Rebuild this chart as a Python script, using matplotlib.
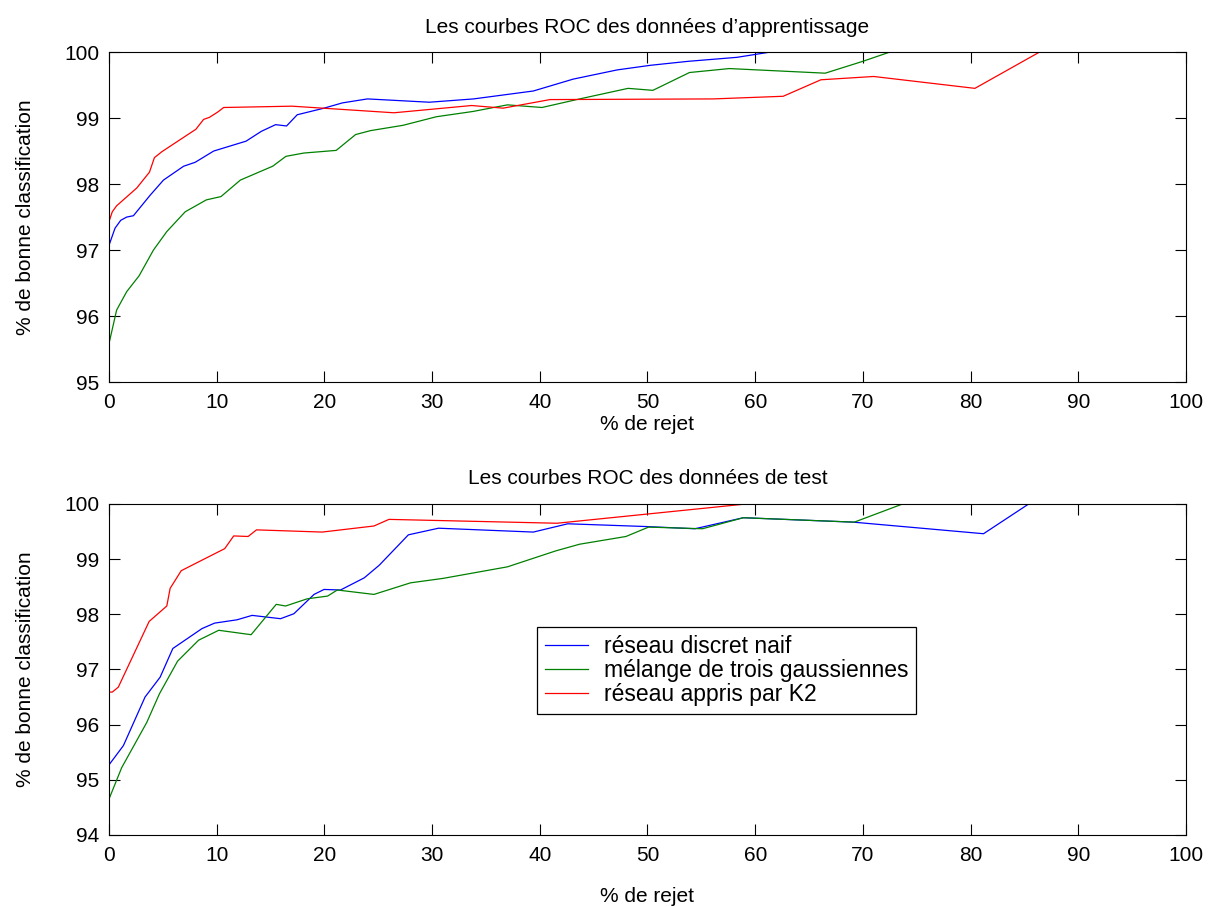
import matplotlib.pyplot as plt

plt.rcParams['font.family'] = ['Liberation Sans', 'DejaVu Sans']

labels = ['réseau discret naif', 'mélange de trois gaussiennes', 'réseau appris par K2']
colors = ['#0000ff', '#008000', '#ff0000']

# apprentissage
train_blue_x = [0, 0.56, 1.09, 1.65, 2.27, 3.82, 5.06, 6.93, 8.01, 9.72, 12.73, 14.16, 15.47, 16.49,
                17.48, 19.97, 21.68, 24.0, 29.75, 33.85, 39.4, 43.1, 47.2, 50.3, 53.8, 58.3, 61.4, 100]
train_blue_y = [97.07, 97.33, 97.45, 97.50, 97.52, 97.83, 98.06, 98.27, 98.33, 98.50, 98.65, 98.80, 98.90, 98.88,
                99.05, 99.15, 99.23, 99.29, 99.24, 99.29, 99.41, 99.59, 99.73, 99.80, 99.86, 99.92, 100, 100]
train_green_x = [0, 0.71, 1.65, 2.80, 4.13, 5.37, 7.08, 9.04, 10.40, 12.2, 13.91, 15.2, 16.43, 18.1, 21.1,
                 22.9, 24.3, 27.3, 30.4, 33.8, 37.0, 40.2, 43.7, 48.2, 50.5, 53.9, 57.6, 66.5, 70.0, 72.5, 100]
train_green_y = [95.58, 96.09, 96.37, 96.61, 97.0, 97.28, 97.58, 97.76, 97.81, 98.06, 98.18, 98.27, 98.42, 98.47, 98.51,
                 98.75, 98.81, 98.89, 99.02, 99.10, 99.20, 99.16, 99.29, 99.45, 99.42, 99.69, 99.75, 99.68, 99.86, 100, 100]
train_red_x = [0, 0.31, 0.71, 2.58, 3.76, 4.22, 4.91, 8.07, 8.79, 9.32, 10.09, 10.65, 17.0, 26.46, 33.67,
               36.6, 40.95, 56.1, 62.6, 66.1, 71.0, 80.4, 86.4, 100]
train_red_y = [97.43, 97.58, 97.67, 97.94, 98.18, 98.40, 98.49, 98.83, 98.98, 99.01, 99.09, 99.16, 99.18, 99.08, 99.19,
               99.15, 99.28, 99.29, 99.33, 99.58, 99.63, 99.45, 100, 100]

# test
test_blue_x = [0, 1.34, 3.35, 4.75, 5.93, 8.63, 9.81, 11.89, 13.29, 15.93, 17.17, 19.04, 19.97, 21.5, 23.7,
               25.1, 27.8, 30.6, 39.4, 42.6, 49.9, 54.4, 58.9, 69.1, 81.2, 85.4, 100]
test_blue_y = [95.27, 95.62, 96.50, 96.86, 97.38, 97.74, 97.84, 97.90, 97.98, 97.92, 98.01, 98.36, 98.45, 98.44, 98.66,
               98.89, 99.44, 99.56, 99.49, 99.64, 99.59, 99.55, 99.75, 99.67, 99.46, 100, 100]
test_green_x = [0, 1.18, 3.51, 4.69, 6.37, 8.32, 10.19, 13.2, 15.53, 16.4, 18.4, 20.3, 21.2, 24.6, 28.0,
                31.0, 37.0, 41.5, 43.7, 48.0, 50.1, 55.1, 58.9, 69.2, 73.7, 100]
test_green_y = [94.65, 95.22, 96.04, 96.56, 97.15, 97.53, 97.71, 97.63, 98.18, 98.15, 98.28, 98.33, 98.44, 98.36, 98.57,
                98.65, 98.86, 99.15, 99.27, 99.41, 99.58, 99.55, 99.75, 99.67, 100, 100]
test_red_x = [0, 0.31, 0.87, 3.73, 5.37, 5.68, 6.71, 10.75, 11.58, 12.92, 13.7, 19.8, 24.6, 26.0, 41.6, 59.2, 100]
test_red_y = [96.59, 96.59, 96.68, 97.87, 98.15, 98.47, 98.79, 99.19, 99.42, 99.41, 99.53, 99.49, 99.60, 99.72,
              99.65, 100, 100]

fig = plt.figure(figsize=(12.08, 9.07), dpi=100)
ax1 = fig.add_axes([0.0902, 0.5788, 0.8916, 0.3638])
ax2 = fig.add_axes([0.0902, 0.0794, 0.8916, 0.3650])

FS = 15


def style(ax, ylo):
    ax.set_xlim(0, 100)
    ax.set_ylim(ylo, 100)
    ax.set_xticks(range(0, 101, 10))
    ax.set_yticks(range(ylo, 101))
    ax.tick_params(direction='in', top=True, right=True, length=8, width=0.8,
                   labelsize=FS)
    ax.tick_params(axis='x', pad=8)
    ax.tick_params(axis='y', pad=7)
    for s in ax.spines.values():
        s.set_linewidth(0.8)
    ax.set_ylabel('% de bonne classification', fontsize=FS, labelpad=21)


ax1.plot(train_blue_x, train_blue_y, color=colors[0], lw=0.9)
ax1.plot(train_green_x, train_green_y, color=colors[1], lw=0.9)
ax1.plot(train_red_x, train_red_y, color=colors[2], lw=0.9)
style(ax1, 95)
ax1.set_title("Les courbes ROC des données d’apprentissage", fontsize=FS, pad=14)
ax1.set_xlabel('% de rejet', fontsize=FS, labelpad=2)

ax2.plot(test_blue_x, test_blue_y, color=colors[0], lw=0.9, label=labels[0])
ax2.plot(test_green_x, test_green_y, color=colors[1], lw=0.9, label=labels[1])
ax2.plot(test_red_x, test_red_y, color=colors[2], lw=0.9, label=labels[2])
style(ax2, 94)
ax2.set_title('Les courbes ROC des données de test', fontsize=FS, pad=14)
ax2.set_xlabel('% de rejet', fontsize=FS, labelpad=16)

leg = ax2.legend(loc='upper left', bbox_to_anchor=(0.3974, 0.628), borderaxespad=0,
                 fontsize=16.5, fancybox=False, framealpha=1, edgecolor='black',
                 borderpad=0.33, labelspacing=0.06, handlelength=1.9, handletextpad=0.7)
leg.get_frame().set_linewidth(0.9)

fig.savefig('out.png', dpi=100)
